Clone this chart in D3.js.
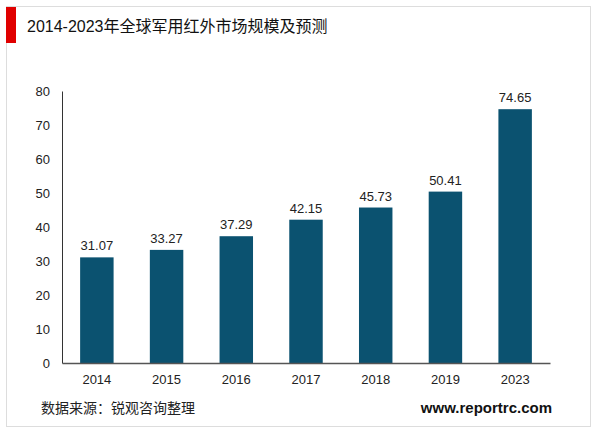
<!DOCTYPE html>
<html><head><meta charset="utf-8">
<script src="https://cdn.jsdelivr.net/npm/d3@7"></script>
<style>body{margin:0;background:#fff;font-family:"Liberation Sans",Arial,sans-serif}</style>
</head><body><div id="chart"></div>
<script>
const years = ["2014","2015","2016","2017","2018","2019","2023"];
const values = [31.07, 33.27, 37.29, 42.15, 45.73, 50.41, 74.65];
const yTicks = [0,10,20,30,40,50,60,70,80];

const svg = d3.select("#chart").append("svg").attr("width",600).attr("height",433);
svg.append("rect").attr("x",6.5).attr("y",6.5).attr("width",584).attr("height",420)
  .attr("fill","#fff").attr("stroke","#ddd");
svg.append("rect").attr("x",6).attr("y",7).attr("width",10).attr("height",36).attr("fill","#e00000");
svg.append("text").attr("x",27).attr("y",32).attr("font-size",16).attr("fill","#111")
  .style("font-family","'Liberation Sans','Noto Sans CJK SC',sans-serif")
  .text("2014-2023年全球军用红外市场规模及预测");

const x = d3.scaleBand().domain(years).range([62,550]).paddingInner(0.52).paddingOuter(0.26);
const y = d3.scaleLinear().domain([0,80]).range([363,91]);

const g = svg.append("g");
g.append("g").attr("transform","translate(62,0)")
  .call(d3.axisLeft(y).tickValues(yTicks).tickSize(0).tickPadding(12))
  .call(a=>{a.select(".domain").attr("stroke","#333");a.selectAll("text").attr("font-size",13).attr("fill","#222").style("font-family","'Liberation Sans',Arial")});
g.selectAll(".bar").data(values).join("rect").attr("class","bar")
  .attr("x",(d,i)=>x(years[i])).attr("width",x.bandwidth())
  .attr("y",d=>y(d)).attr("height",d=>363-y(d)).attr("fill","#0b5270");
g.selectAll(".lbl").data(values).join("text").attr("class","lbl")
  .attr("x",(d,i)=>x(years[i])+x.bandwidth()/2).attr("y",d=>y(d)-7)
  .attr("text-anchor","middle").attr("font-size",13).attr("fill","#222").text(d=>d.toFixed(2));
g.append("g").attr("transform","translate(0,363)")
  .call(d3.axisBottom(x).tickSize(0).tickPadding(12))
  .call(a=>{a.select(".domain").attr("stroke","#555").attr("stroke-width",1.5);a.selectAll("text").attr("font-size",13).attr("fill","#222").style("font-family","'Liberation Sans',Arial")});

svg.append("text").attr("x",41).attr("y",413).attr("font-size",14).attr("fill","#222")
  .style("font-family","'Noto Sans CJK SC',sans-serif").text("数据来源：锐观咨询整理");
svg.append("text").attr("x",552).attr("y",413).attr("text-anchor","end").attr("font-size",15)
  .attr("font-weight","bold").attr("fill","#111").text("www.reportrc.com");
</script></body></html>
